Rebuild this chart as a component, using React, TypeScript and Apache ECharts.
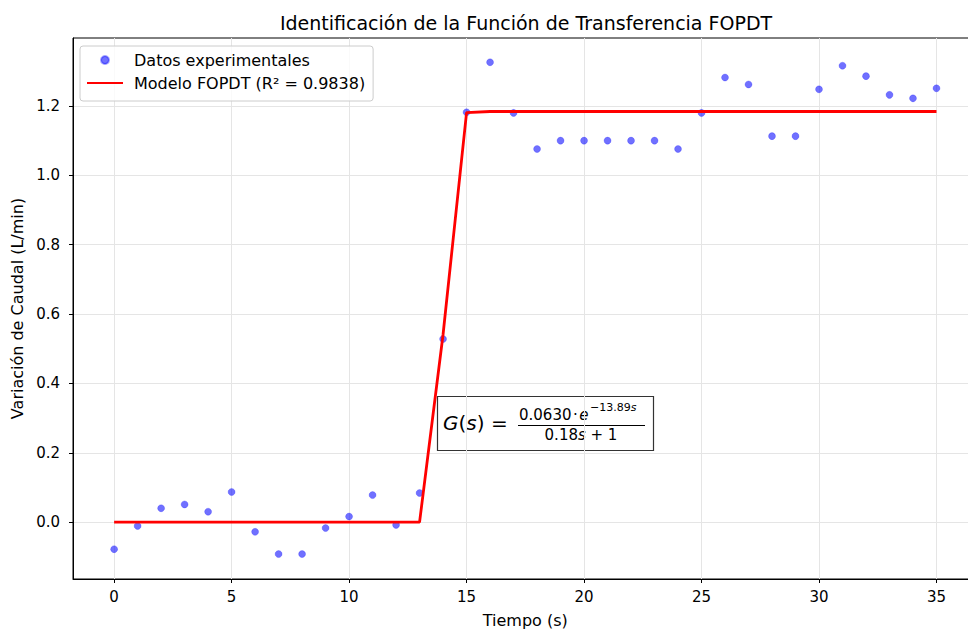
import React, { useEffect, useRef } from "react";
import * as echarts from "echarts";

const timeS = [0, 1, 2, 3, 4, 5, 6, 7, 8, 9, 10, 11, 12, 13, 14, 15, 16, 17, 18, 19, 20, 21, 22, 23, 24, 25, 26, 27, 28, 29, 30, 31, 32, 33, 34, 35];
const measured = [
  -0.078, -0.011, 0.04, 0.051, 0.03, 0.087, -0.028, -0.092, -0.092, -0.017, 0.016, 0.078, -0.008, 0.084,
  0.528, 1.182, 1.326, 1.18, 1.076, 1.1, 1.1, 1.1, 1.1, 1.1, 1.076, 1.18, 1.282, 1.262, 1.113, 1.113,
  1.248, 1.316, 1.286, 1.232, 1.222, 1.251,
];
const modelFOPDT = [
  0, 0, 0, 0, 0, 0, 0, 0, 0, 0, 0, 0, 0, 0,
  0.541, 1.181, 1.184, 1.184, 1.184, 1.184, 1.184, 1.184, 1.184, 1.184, 1.184, 1.184, 1.184, 1.184, 1.184, 1.184,
  1.184, 1.184, 1.184, 1.184, 1.184, 1.184,
];
const xTicks = [0, 5, 10, 15, 20, 25, 30, 35];
const yTicks = [0, 0.2, 0.4, 0.6, 0.8, 1.0, 1.2];

const FONT = "DejaVu Sans";

export default function App() {
  const ref = useRef<HTMLDivElement>(null);
  useEffect(() => {
    const chart = echarts.init(ref.current!, null, { renderer: "svg" });
    const scatterData = timeS.map((t, i) => [t, measured[i]]);
    const lineData = timeS.map((t, i) => [t, modelFOPDT[i]]);
    chart.setOption({
      animation: false,
      backgroundColor: "#ffffff",
      textStyle: { fontFamily: FONT },
      title: {
        text: "Identificación de la Función de Transferencia FOPDT",
        left: 521,
        top: 8,
        textAlign: "center",
        textStyle: { fontFamily: FONT, fontSize: 19, fontWeight: "normal", color: "#000" },
      },
      grid: {
        left: 73,
        top: 38,
        right: 2.4,
        bottom: 54,
        show: true,
        borderColor: "#000",
        borderWidth: 1,
        backgroundColor: "transparent",
      },
      legend: {
        left: 80,
        top: 46,
        orient: "vertical",
        padding: [6, 8, 10, 6],
        itemGap: 7,
        itemWidth: 36,
        itemHeight: 8,
        borderColor: "#cccccc",
        borderWidth: 1,
        borderRadius: 3,
        backgroundColor: "rgba(255,255,255,0.8)",
        textStyle: { fontFamily: FONT, fontSize: 16, color: "#000", padding: [0, 0, 0, 6] },
        data: [
          { name: "Datos experimentales", icon: "circle" },
          { name: "Modelo FOPDT (R² = 0.9838)", itemStyle: { opacity: 0 } },
        ],
      },
      xAxis: {
        type: "value",
        min: -1.75,
        max: 36.75,
        name: "Tiempo (s)",
        nameLocation: "middle",
        nameGap: 33,
        nameTextStyle: { fontFamily: FONT, fontSize: 16, color: "#000" },
        axisLine: { onZero: false, lineStyle: { color: "#000", width: 1 } },
        axisTick: { customValues: xTicks, length: 4, lineStyle: { color: "#000" } },
        axisLabel: {
          customValues: xTicks,
          margin: 10,
          fontFamily: FONT,
          fontSize: 15,
          color: "#000",
          formatter: (v: number) => String(v),
        },
        splitLine: { show: true, lineStyle: { color: "#e5e5e5", width: 1 } },
      },
      yAxis: {
        type: "value",
        min: -0.164,
        max: 1.396,
        name: "Variación de Caudal (L/min)",
        nameLocation: "middle",
        nameGap: 48,
        nameTextStyle: { fontFamily: FONT, fontSize: 16, color: "#000" },
        axisLine: { onZero: false, lineStyle: { color: "#000", width: 1 } },
        axisTick: { customValues: yTicks, length: 4, lineStyle: { color: "#000" } },
        axisLabel: {
          customValues: yTicks,
          margin: 13,
          fontFamily: FONT,
          fontSize: 15,
          color: "#000",
          formatter: (v: number) => v.toFixed(1),
        },
        splitLine: { show: true, lineStyle: { color: "#e5e5e5", width: 1 } },
      },
      series: [
        {
          name: "Datos experimentales",
          type: "scatter",
          data: scatterData,
          symbolSize: 7,
          itemStyle: { color: "rgba(0,0,255,0.7)", borderColor: "rgba(0,0,255,0.45)", borderWidth: 0.6 },
          z: 2,
        },
        {
          name: "Modelo FOPDT (R² = 0.9838)",
          type: "line",
          data: lineData,
          showSymbol: false,
          symbol: "none",
          lineStyle: { color: "#ff0000", width: 2.8 },
          itemStyle: { color: "#ff0000" },
          z: 3,
        },
      ],
      graphic: [
        {
          type: "group",
          z: 100,
          children: [
            {
              type: "rect",
              shape: { x: 437.5, y: 396.5, width: 216, height: 54 },
              style: { fill: "#ffffff", stroke: "#333333", lineWidth: 1.2 },
            },
            {
              type: "text",
              x: 443,
              y: 423,
              style: {
                text: "{i|G}{n|(}{i|s}{n|) =}",
                verticalAlign: "middle",
                rich: {
                  i: { fontFamily: FONT, fontSize: 20, fontStyle: "italic", fill: "#000" },
                  n: { fontFamily: FONT, fontSize: 20, fill: "#000" },
                },
              },
            },
            {
              type: "text",
              x: 519,
              y: 415,
              style: {
                text: "{n|0.0630\u200a·\u200a}{i|e}",
                verticalAlign: "middle",
                rich: {
                  i: { fontFamily: FONT, fontSize: 15, fontStyle: "italic", fill: "#000" },
                  n: { fontFamily: FONT, fontSize: 15, fill: "#000" },
                },
              },
            },
            {
              type: "text",
              x: 590,
              y: 407,
              style: {
                text: "{n|−13.89}{i|s}",
                verticalAlign: "middle",
                rich: {
                  i: { fontFamily: FONT, fontSize: 11, fontStyle: "italic", fill: "#000" },
                  n: { fontFamily: FONT, fontSize: 11, fill: "#000" },
                },
              },
            },
            {
              type: "line",
              shape: { x1: 518, y1: 425.5, x2: 645, y2: 425.5 },
              style: { stroke: "#000", lineWidth: 1 },
            },
            {
              type: "text",
              x: 581,
              y: 435,
              style: {
                text: "{n|0.18}{i|s}{n| + 1}",
                align: "center",
                verticalAlign: "middle",
                rich: {
                  i: { fontFamily: FONT, fontSize: 15, fontStyle: "italic", fill: "#000" },
                  n: { fontFamily: FONT, fontSize: 15, fill: "#000" },
                },
              },
            },
          ],
        },
      ],
    });
    return () => chart.dispose();
  }, []);
  return (
    <div style={{ position: "fixed", left: 0, top: 0, width: 968, height: 633, overflow: "hidden", background: "#fff" }}>
      <div ref={ref} style={{ width: 980, height: 633 }} />
    </div>
  );
}
